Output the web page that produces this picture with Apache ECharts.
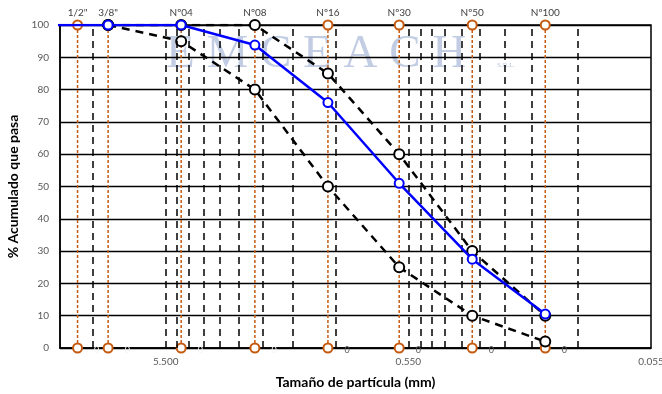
<!DOCTYPE html>
<html>
<head>
<meta charset="utf-8">
<script src="https://cdn.jsdelivr.net/npm/echarts@6/dist/echarts.min.js"></script>
<style>
  html, body { margin: 0; padding: 0; background: #fff; }
  #chart { width: 662px; height: 394px; }
</style>
</head>
<body>
<div id="chart"></div>
<script>
// sieve openings (mm) and their names
const sieveLabels = ['1/2"', '3/8"', 'Nº04', 'Nº08', 'Nº16', 'Nº30', 'Nº50', 'Nº100'];
const sieveSizes = [12.7, 9.5, 4.75, 2.36, 1.18, 0.6, 0.3, 0.15];

// sample curve (blue)
const sampleSizes = [19.05, 9.5, 4.75, 2.36, 1.18, 0.6, 0.3, 0.15];
const samplePass = [100, 100, 100, 93.8, 76, 51, 27.5, 10.5];

// limits (black dashed)
const limitSizes = [9.5, 4.75, 2.36, 1.18, 0.6, 0.3, 0.15];
const upperPass = [100, 100, 100, 85, 60, 30, 10];
const lowerPass = [100, 95, 80, 50, 25, 10, 2];

// log grid lines and x tick labels
const gridSizes = [0.11, 0.165, 0.22, 0.275, 0.33, 0.385, 0.44, 0.495, 0.55,
  1.1, 1.65, 2.2, 2.75, 3.3, 3.85, 4.4, 4.95, 5.5, 11];
const xTicks = [5.5, 0.55, 0.055];

const BROWN = '#C55A11';
const FONT = 'Lato';

const chart = echarts.init(document.getElementById('chart'));

const sieveSeries = sieveSizes.map((s, i) => ({
  type: 'line',
  z: 3,
  silent: true,
  symbol: 'emptyCircle',
  symbolSize: 9,
  itemStyle: { color: BROWN, borderColor: BROWN, borderWidth: 1.5 },
  lineStyle: { color: BROWN, width: 1.5, type: [3, 2] },
  data: [
    {
      value: [s, 0],
      label: {
        show: true, position: 'right', distance: 11, offset: [0, 2],
        formatter: '0', fontSize: 9, fontFamily: FONT,
        color: i < 4 ? '#f4f4f4' : '#595959'
      }
    },
    {
      value: [s, 100],
      label: {
        show: true, position: 'top', distance: 2,
        formatter: sieveLabels[i], fontSize: 10, fontFamily: FONT, color: '#404040'
      }
    }
  ]
}));

const limitStyle = {
  type: 'line',
  z: 4,
  silent: true,
  symbol: 'emptyCircle',
  symbolSize: 10,
  itemStyle: { color: '#000', borderColor: '#000', borderWidth: 1.5 },
  lineStyle: { color: '#000', width: 2.5, type: [8, 6] }
};

const options = {
  animation: false,
  grid: {
    left: 60, right: 11, top: 25, bottom: 46,
    outerBoundsMode: 'none',
    show: true, borderColor: '#000', borderWidth: 1.5
  },
  xAxis: {
    type: 'log',
    logBase: 10,
    min: 0.055,
    max: 15,
    inverse: true,
    name: 'Tamaño de partícula (mm)',
    nameLocation: 'middle',
    nameGap: 27,
    nameTextStyle: { fontSize: 14, fontWeight: 'bold', color: '#000', fontFamily: FONT },
    axisLine: { show: true, lineStyle: { color: '#000', width: 1.5 } },
    axisTick: { show: false },
    splitLine: { show: false },
    axisLabel: {
      customValues: xTicks,
      formatter: v => Number(v).toFixed(3),
      color: '#595959', fontSize: 10, fontFamily: FONT, margin: 9
    }
  },
  yAxis: {
    type: 'value',
    min: 0,
    max: 100,
    interval: 10,
    name: '% Acumulado que pasa',
    nameLocation: 'middle',
    nameGap: 36,
    nameTextStyle: { fontSize: 14, fontWeight: 'bold', color: '#000', fontFamily: FONT },
    axisLine: { show: true, lineStyle: { color: '#000', width: 1.5 } },
    axisTick: { show: false },
    splitLine: { lineStyle: { color: '#000', width: 1.3 } },
    axisLabel: { color: '#595959', fontSize: 10, fontFamily: FONT, margin: 11 }
  },
  graphic: [
    {
      type: 'text', left: 166, top: 31, z: -1, silent: true,
      style: {
        text: 'E M C E A C H',
        fontSize: 47, fontFamily: 'Liberation Serif',
        fill: 'rgba(110,135,190,0.42)'
      }
    },
    {
      type: 'text', left: 497, top: 62, z: -1, silent: true,
      style: { text: 'S.R.L.', fontSize: 7, fontFamily: 'Liberation Serif', fill: 'rgba(110,135,190,0.5)' }
    }
  ],
  series: [
    {
      // dashed log grid
      type: 'line',
      z: 1,
      silent: true,
      data: [],
      markLine: {
        silent: true,
        symbol: ['none', 'none'],
        label: { show: false },
        lineStyle: { color: '#000', width: 1.5, type: [7, 5] },
        data: gridSizes.map(v => ({ xAxis: v }))
      }
    },
    ...sieveSeries,
    Object.assign({ name: 'Limite superior', data: limitSizes.map((s, i) => [s, upperPass[i]]) }, limitStyle),
    Object.assign({ name: 'Limite inferior', data: limitSizes.map((s, i) => [s, lowerPass[i]]) }, limitStyle),
    {
      name: 'Muestra',
      type: 'line',
      z: 5,
      silent: true,
      symbol: 'emptyCircle',
      symbolSize: 9,
      itemStyle: { color: '#0000FF', borderColor: '#0000FF', borderWidth: 1.5 },
      lineStyle: { color: '#0000FF', width: 2.5 },
      data: sampleSizes.map((s, i) => [s, samplePass[i]])
    }
  ]
};

chart.setOption(options);
</script>
</body>
</html>
